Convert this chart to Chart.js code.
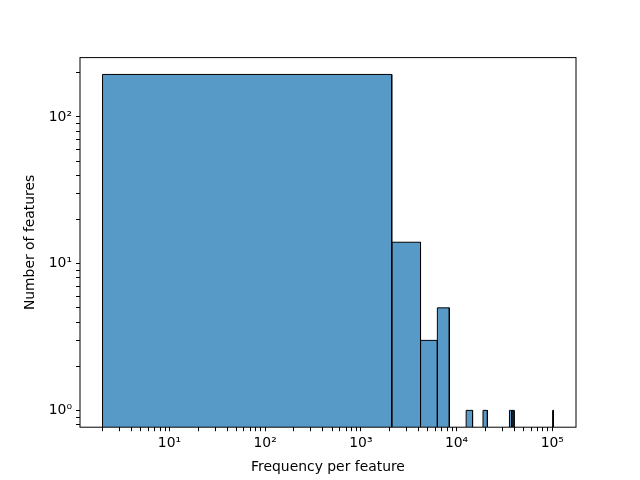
<!DOCTYPE html>
<html>
<head>
<meta charset="utf-8">
<script src="https://cdn.jsdelivr.net/npm/chart.js@4/dist/chart.umd.min.js"></script>
<style>
  html, body { margin: 0; padding: 0; background: #ffffff; }
  canvas { display: block; }
</style>
</head>
<body>
<canvas id="histChart" width="640" height="480"></canvas>
<script>
// non-empty histogram bins (bin width 2100, starting at 2)
const binLeft  = [2, 2102, 4202, 6302, 12602, 18902, 35702, 37802, 100802];
const binRight = [2102, 4202, 6302, 8402, 14702, 21002, 37802, 39902, 102902];
const binCounts = [195, 14, 3, 5, 1, 1, 1, 1, 1];

const xTickValues = [10, 100, 1000, 10000, 100000];
const xTickLabels = ["10¹", "10²", "10³", "10⁴", "10⁵"];
const yTickValues = [1, 10, 100];
const yTickLabels = ["10⁰", "10¹", "10²"];

const xMin = 1.163, xMax = 177000;
const yMin = 0.768, yMax = 254;

const barFill = "rgba(31, 119, 180, 0.75)";
const fontFamily = "'DejaVu Sans', sans-serif";

function logTicks(min, max) {
    // majors and 2..9 minors inside the range
    const ticks = [];
    for (let e = Math.floor(Math.log10(min)); e <= Math.ceil(Math.log10(max)); e++) {
        for (let m = 1; m <= 9; m++) {
            const v = m * Math.pow(10, e);
            if (v >= min && v <= max) ticks.push({ value: v });
        }
    }
    return ticks;
}

function labelFor(values, labels) {
    return function (value) {
        for (let i = 0; i < values.length; i++) {
            if (Math.abs(value - values[i]) / values[i] < 1e-9) return labels[i];
        }
        return "";
    };
}

const datasets = binLeft.map((left, i) => ({
    data: [
        { x: left, y: yMin },
        { x: left, y: binCounts[i] },
        { x: binRight[i], y: binCounts[i] },
        { x: binRight[i], y: yMin }
    ],
    borderColor: "#000000",
    borderWidth: 1,
    backgroundColor: barFill,
    fill: "start",
    tension: 0,
    pointRadius: 0
}));

const frame = {
    id: "frame",
    afterDatasetsDraw(chart) {
        const { ctx, chartArea } = chart;
        ctx.save();
        ctx.strokeStyle = "#000000";
        ctx.lineWidth = 1;
        ctx.strokeRect(chartArea.left, chartArea.top,
            chartArea.right - chartArea.left, chartArea.bottom - chartArea.top);
        ctx.restore();
    }
};

new Chart(document.getElementById("histChart"), {
    type: "line",
    data: { datasets: datasets },
    options: {
        responsive: false,
        animation: false,
        devicePixelRatio: 1,
        layout: { padding: { top: 57.6, right: 64, left: 0, bottom: 0 } },
        plugins: { legend: { display: false }, tooltip: { enabled: false } },
        scales: {
            x: {
                type: "logarithmic",
                min: xMin,
                max: xMax,
                afterBuildTicks: (scale) => { scale.ticks = logTicks(xMin, xMax); },
                afterFit: (scale) => { scale.height = 52.8; },
                border: { display: false },
                grid: { drawOnChartArea: false, drawTicks: true, tickLength: 4, color: "#000000", tickColor: "#000000" },
                ticks: {
                    autoSkip: false,
                    maxRotation: 0,
                    padding: 4,
                    color: "#000000",
                    font: { family: fontFamily, size: 13.9 },
                    callback: labelFor(xTickValues, xTickLabels)
                },
                title: {
                    display: true,
                    text: "Frequency per feature",
                    color: "#000000",
                    font: { family: fontFamily, size: 13.9 },
                    padding: { top: 0, bottom: 4.5 }
                }
            },
            y: {
                type: "logarithmic",
                min: yMin,
                max: yMax,
                afterBuildTicks: (scale) => { scale.ticks = logTicks(yMin, yMax); },
                afterFit: (scale) => { scale.width = 80; },
                border: { display: false },
                grid: { drawOnChartArea: false, drawTicks: true, tickLength: 4, color: "#000000", tickColor: "#000000" },
                ticks: {
                    autoSkip: false,
                    padding: 4,
                    color: "#000000",
                    font: { family: fontFamily, size: 13.9 },
                    callback: labelFor(yTickValues, yTickLabels)
                },
                title: {
                    display: true,
                    text: "Number of features",
                    color: "#000000",
                    font: { family: fontFamily, size: 13.9 },
                    padding: { top: 22.5, bottom: 0 }
                }
            }
        }
    },
    plugins: [frame]
});
</script>
</body>
</html>
